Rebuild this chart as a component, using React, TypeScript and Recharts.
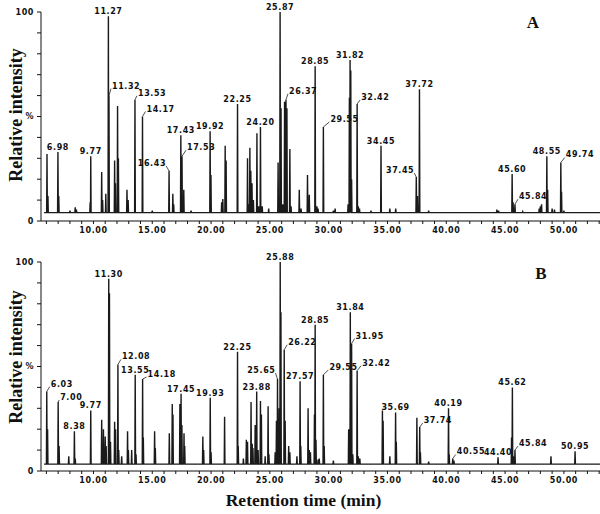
import { LineChart, Line, XAxis, YAxis, LabelList } from 'recharts'

// panel A: [retention time (min), relative intensity (%)]
const PEAKS_A = [
  [6.05, 32], [6.13, 12], [6.98, 33], [7.05, 12], [8.0, 5], [8.45, 6.5], [8.55, 5.5],
  [9.72, 9], [9.77, 31], [10.7, 23.5], [10.78, 10], [11.05, 13], [11.27, 98], [11.32, 60],
  [11.8, 29], [11.87, 18], [12.05, 55], [12.12, 30], [12.85, 15], [12.95, 10],
  [13.53, 58], [14.17, 50], [15.0, 5], [16.43, 24], [16.75, 13], [16.82, 8],
  [17.43, 41], [17.53, 31], [17.68, 15], [18.3, 5], [19.92, 43], [19.99, 22],
  [20.9, 9], [21.0, 10.5], [21.2, 36], [21.28, 29], [22.25, 56], [23.1, 30], [23.2, 8],
  [23.3, 35], [23.38, 24], [23.48, 18], [23.6, 10], [23.9, 42], [24.05, 7], [24.2, 45],
  [24.35, 7], [24.9, 6], [25.7, 28], [25.87, 100], [25.95, 54], [26.1, 8], [26.25, 57],
  [26.37, 58], [26.45, 54], [26.7, 34.5], [26.8, 7], [27.5, 15], [27.65, 6], [28.2, 22],
  [28.35, 12.5], [28.85, 74], [29.0, 7], [29.1, 6], [29.55, 45], [30.4, 5], [30.55, 6],
  [31.65, 8], [31.76, 59], [31.82, 77], [31.88, 72], [31.95, 20], [32.42, 56], [32.52, 7],
  [32.62, 6], [33.6, 5], [34.45, 36], [35.2, 6], [35.7, 6], [37.45, 21], [37.55, 12],
  [37.72, 63], [38.5, 5], [44.3, 5.5], [44.45, 5], [45.6, 22.5], [45.68, 9], [45.84, 8],
  [46.5, 4.5], [47.9, 6], [48.0, 7], [48.1, 8], [48.55, 31], [48.62, 15], [49.0, 6],
  [49.2, 5.5], [49.74, 28], [49.8, 14], [50.0, 5],
]
const LABELS_A = [
  '6.98', '9.77', '11.27', '11.32', '13.53', '14.17', '16.43', '17.43', '17.53', '19.92',
  '22.25', '24.20', '25.87', '26.37', '28.85', '29.55', '31.82', '32.42', '34.45', '37.45',
  '37.72', '45.60', '45.84', '48.55', '49.74',
]

// panel B
const PEAKS_B = [
  [6.03, 38], [6.1, 20], [7.0, 33], [7.08, 12], [7.9, 7], [8.38, 19], [8.45, 6],
  [9.77, 29], [10.7, 24.5], [10.85, 20], [11.0, 16.5], [11.08, 12], [11.3, 92], [11.36, 85],
  [11.45, 14], [11.8, 23.6], [11.88, 20], [12.08, 51], [12.15, 10], [12.4, 7], [12.9, 19],
  [12.97, 10], [13.25, 10], [13.55, 46], [13.62, 8], [14.18, 44], [14.24, 16], [15.2, 19],
  [15.26, 11], [16.45, 18], [16.7, 32], [16.76, 27], [17.35, 32], [17.45, 37], [17.52, 22],
  [17.7, 18], [17.76, 12], [19.3, 16.5], [19.37, 10], [19.93, 35], [20.0, 9], [21.15, 26],
  [22.25, 57], [22.31, 12], [22.75, 6], [23.0, 15], [23.1, 14], [23.4, 33], [23.5, 13],
  [23.56, 11], [23.75, 22], [23.88, 38], [24.0, 10], [24.2, 33.5], [24.28, 27], [24.6, 7],
  [24.85, 31], [24.92, 8], [25.45, 9], [25.56, 24], [25.65, 44], [25.79, 30], [25.88, 100],
  [25.94, 76], [26.22, 58], [26.3, 24], [26.6, 12], [26.7, 9], [27.3, 7], [27.57, 43],
  [27.63, 12], [28.25, 30], [28.35, 10], [28.45, 9], [28.79, 27], [28.85, 70], [28.92, 15],
  [29.1, 5.5], [29.2, 6], [29.55, 46], [29.62, 12], [30.4, 5], [31.7, 20], [31.84, 76],
  [31.89, 55], [31.95, 61], [32.05, 8], [32.42, 48], [32.52, 7], [32.65, 6], [34.57, 29],
  [34.63, 24], [35.2, 7], [35.69, 28], [35.75, 14], [37.5, 25.5], [37.74, 21], [37.8, 9],
  [38.5, 4.5], [40.19, 30], [40.25, 8], [40.55, 6], [40.65, 5], [44.4, 6.6], [45.55, 16],
  [45.62, 40], [45.7, 7], [45.84, 10], [48.9, 7], [50.95, 9.4],
]
const LABELS_B = [
  '6.03', '7.00', '8.38', '9.77', '11.30', '12.08', '13.55', '14.18', '17.45', '19.93',
  '22.25', '23.88', '25.65', '25.88', '26.22', '27.57', '28.85', '29.55', '31.84', '31.95',
  '32.42', '35.69', '37.74', '40.19', '40.55', '44.40', '45.62', '45.84', '50.95',
]

const X_TICKS = [
  6, 7, 8, 9, 10, 11, 12, 13, 14, 15, 16, 17, 18, 19, 20, 21, 22, 23, 24, 25, 26, 27, 28, 29,
  30, 31, 32, 33, 34, 35, 36, 37, 38, 39, 40, 41, 42, 43, 44, 45, 46, 47, 48, 49, 50, 51, 52, 53,
]
const Y_TICKS = [0, 10, 20, 30, 40, 50, 60, 70, 80, 90, 100]

// label leader offsets (px) from peak top
const LEADERS_A: Record<string, number[]> = {
  '11.32': [2, -7], '13.53': [2, -4], '14.17': [3, -5], '16.43': [-3, -5], '17.53': [4, -6],
  '26.37': [2, -6], '29.55': [6, -5], '32.42': [3, -4], '37.45': [-2, -4], '45.84': [3, -5],
  '49.74': [4, -5],
}
const LEADERS_B: Record<string, number[]> = {
  '6.03': [3, -5], '7.00': [1, -2], '12.08': [3, -5], '14.18': [4, -2], '25.65': [-2, -6],
  '26.22': [3, -5], '29.55': [5, -5], '31.95': [3, -5], '32.42': [4, -5], '37.74': [3, -4],
  '40.55': [3, -4], '45.84': [3, -4],
}

const HALF = 0.03
const FONT = { fontFamily: 'DejaVu Sans', fontWeight: 'bold', fontSize: 8, letterSpacing: 0.6, fill: '#111' }
const SERIF = { fontFamily: '"Liberation Serif", serif', fontWeight: 'bold', fill: '#111' }

function buildTrace(peaks: number[][], labels: string[], base: number) {
  const pts: { t: number; y: number; label?: string }[] = [{ t: 5.8, y: base }, { t: 53.07, y: base }]
  peaks.forEach(([t, h]) => {
    const lab = t.toFixed(2)
    pts.push({ t: t - HALF, y: base })
    pts.push({ t, y: h, label: labels.includes(lab) ? lab : undefined })
    pts.push({ t: t + HALF, y: base })
  })
  return pts.sort((a, b) => a.t - b.t)
}

const peakLabel = (leaders: Record<string, number[]>) => (props: any) => {
  const { x, y, value } = props
  if (!value) return null
  const off = leaders[value]
  if (!off) {
    return <text x={x} y={y - 2} textAnchor="middle" style={FONT}>{value}</text>
  }
  const [dx, dy] = off
  return (
    <g>
      <line x1={x} y1={y} x2={x + dx} y2={y + dy} stroke="#222" strokeWidth={0.8} />
      <text x={x + dx + (dx > 0 ? 1 : 0)} y={y + dy} textAnchor={dx > 0 ? 'start' : 'end'} style={FONT}>{value}</text>
    </g>
  )
}

function Panel({ data, leaders }: { data: any[]; leaders: Record<string, number[]> }) {
  return (
    <LineChart width={600} height={250} data={data} margin={{ top: 12, right: 0, left: 0, bottom: 0 }}>
      <XAxis
        dataKey="t" type="number" domain={[5.54, 53.07]} allowDataOverflow ticks={X_TICKS} interval={0}
        tickFormatter={(v) => (v % 5 === 0 ? v.toFixed(2) : '')}
        tickSize={3} tickMargin={3} height={29}
        stroke="#111" tick={FONT}
      />
      <YAxis
        type="number" domain={[0, 100]} ticks={Y_TICKS} interval={0} width={41}
        tickFormatter={(v) => (v === 100 ? '100' : v === 50 ? '%' : v === 0 ? '0' : '')}
        tickSize={4} tickMargin={3} stroke="#111" tick={FONT}
      />
      <Line type="linear" dataKey="y" stroke="#1a1a1a" strokeWidth={1.4} dot={false} isAnimationActive={false}>
        <LabelList dataKey="label" content={peakLabel(leaders)} />
      </Line>
    </LineChart>
  )
}

export default function App() {
  const traceA = buildTrace(PEAKS_A, LABELS_A, 4)
  const traceB = buildTrace(PEAKS_B, LABELS_B, 3.3)
  return (
    <div style={{ position: 'absolute', left: 0, top: 0, width: 600, height: 514, background: '#fff' }}>
      <div style={{ position: 'absolute', left: 0, top: 0 }}>
        <Panel data={traceA} leaders={LEADERS_A} />
      </div>
      <div style={{ position: 'absolute', left: 0, top: 250 }}>
        <Panel data={traceB} leaders={LEADERS_B} />
      </div>
      <svg width={600} height={514} style={{ position: 'absolute', left: 0, top: 0, pointerEvents: 'none' }}>
        <text transform="translate(21.5,115) rotate(-90)" textAnchor="middle" fontSize={18} style={SERIF}>Relative intensity</text>
        <text transform="translate(21.5,357) rotate(-90)" textAnchor="middle" fontSize={18} style={SERIF}>Relative intensity</text>
        <text x={533} y={28} textAnchor="middle" fontSize={17} style={SERIF}>A</text>
        <text x={541} y={279} textAnchor="middle" fontSize={17} style={SERIF}>B</text>
        <text x={303.5} y={506} textAnchor="middle" fontSize={17.5} style={SERIF}>Retention time (min)</text>
      </svg>
    </div>
  )
}
